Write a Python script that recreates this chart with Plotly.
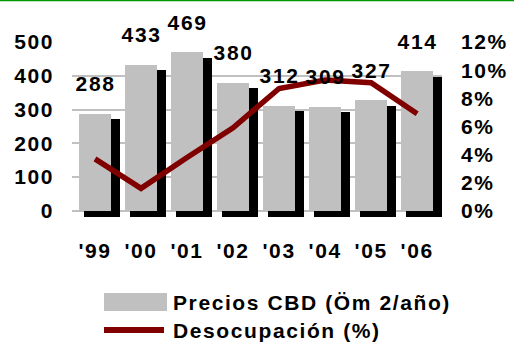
import plotly.graph_objects as go

years = ["'99", "'00", "'01", "'02", "'03", "'04", "'05", "'06"]
prices = [288, 433, 469, 380, 312, 309, 327, 414]
vacancy = [3.7, 1.6, 3.8, 5.9, 8.7, 9.3, 9.1, 6.9]
left_ticks = [0, 100, 200, 300, 400, 500]
right_ticks = [0, 2, 4, 6, 8, 10, 12]
legend_labels = ["Precios CBD (Öm 2/año)", "Desocupación (%)"]

W, H = 514, 343
L, R, T, B = 72, 72, 42, 126
FONT = "Liberation Sans, Arial, sans-serif"
SHADOW = 17
ymin = -18
ymax = 500

fig = go.Figure()
# shadow bars (3D effect)
fig.add_trace(go.Bar(x=years, y=prices, base=-SHADOW, marker=dict(color="#000000", line=dict(width=0)),
                     width=0.78, offset=-0.24, yaxis="y", showlegend=False, hoverinfo="skip"))
fig.add_trace(go.Bar(x=years, y=prices, marker=dict(color="#c0c0c0", line=dict(width=0)),
                     width=0.69, offset=-0.345, yaxis="y", showlegend=False))
fig.add_trace(go.Scatter(x=years, y=vacancy, mode="lines", yaxis="y2",
                         line=dict(color="#800000", width=5.5), showlegend=False))

for xv, yv in zip(years, prices):
    fig.add_annotation(x=xv, y=yv, yref="y", text="<b>%d</b>" % yv, showarrow=False, yshift=30,
                       font=dict(family=FONT, size=21, color="#000"))

# legend (manual)
pw = W - L - R
ph = H - T - B
def px(xp):
    return (xp - L) / pw
def py(yp):
    return (H - B - yp) / ph

fig.add_shape(type="rect", xref="paper", yref="paper", x0=px(104), x1=px(167), y0=py(311), y1=py(293),
              fillcolor="#c0c0c0", line=dict(width=0))
fig.add_shape(type="line", xref="paper", yref="paper", x0=px(104), x1=px(164), y0=py(330), y1=py(330),
              line=dict(color="#800000", width=6))
fig.add_annotation(xref="paper", yref="paper", x=px(171), y=py(302), xanchor="left", yanchor="middle",
                   align="left", text="<b>" + legend_labels[0] + "</b>", showarrow=False,
                   font=dict(family=FONT, size=21, color="#000"))
fig.add_annotation(xref="paper", yref="paper", x=px(171), y=py(330.5), xanchor="left", yanchor="middle",
                   align="left", text="<b>" + legend_labels[1] + "</b>", showarrow=False,
                   font=dict(family=FONT, size=21, color="#000"))
# green top border
fig.add_shape(type="line", xref="paper", yref="paper", x0=px(0), x1=px(W), y0=py(0.6), y1=py(0.6),
              line=dict(color="#009900", width=1.5))

fig.update_layout(
    width=W, height=H, margin=dict(l=L, r=R, t=T, b=B, pad=0),
    paper_bgcolor="white", plot_bgcolor="white",
    barmode="overlay", bargap=0,
    font=dict(family=FONT, size=21, color="#000"),
    xaxis=dict(type="category", showgrid=False, zeroline=False, showline=False,
               tickvals=years, ticktext=["<b>" + y + "</b>" for y in years],
               tickfont=dict(family=FONT, size=21, color="#000"), ticks="", ticklabelstandoff=19),
    yaxis=dict(range=[ymin, ymax], tickvals=left_ticks, ticktext=["<b>%d</b>" % v for v in left_ticks],
               showgrid=True, gridcolor="#c0c0c0", gridwidth=2,
               zeroline=False, showline=False, ticks="", ticklabelstandoff=17,
               tickfont=dict(family=FONT, size=21, color="#000")),
    yaxis2=dict(range=[ymin * 12 / ymax, 12], tickvals=right_ticks,
                ticktext=["<b>%d%%</b>" % v for v in right_ticks], overlaying="y", side="right",
                showgrid=False, zeroline=False, showline=False, ticks="", ticklabelstandoff=18,
                tickfont=dict(family=FONT, size=21, color="#000")),
)

post = """
(function(){
  var gd = document.getElementById('{plot_id}');
  function sp(){
    gd.querySelectorAll('text').forEach(function(t){ t.setAttribute('letter-spacing','1.6px'); });
  }
  sp();
  gd.on && gd.on('plotly_afterplot', sp);
})();
"""
fig.write_html("out.html", post_script=post)
